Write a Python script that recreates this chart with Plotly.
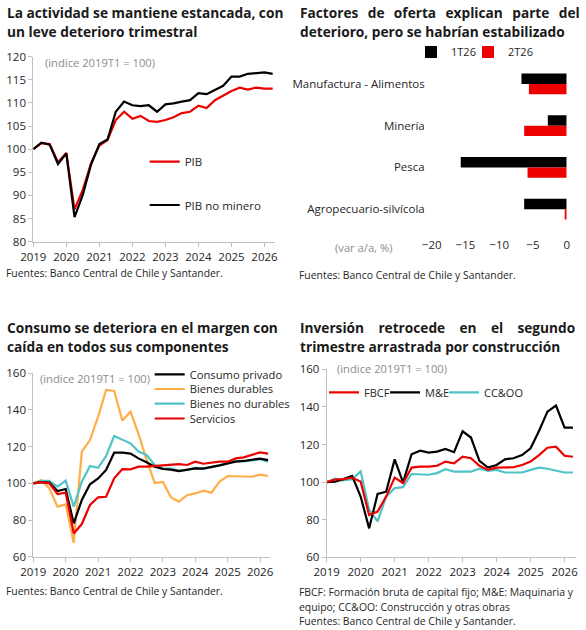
import plotly.graph_objects as go

W, H = 586, 630

quarters = [
    "2019-01-01", "2019-04-01", "2019-07-01", "2019-10-01",
    "2020-01-01", "2020-04-01", "2020-07-01", "2020-10-01",
    "2021-01-01", "2021-04-01", "2021-07-01", "2021-10-01",
    "2022-01-01", "2022-04-01", "2022-07-01", "2022-10-01",
    "2023-01-01", "2023-04-01", "2023-07-01", "2023-10-01",
    "2024-01-01", "2024-04-01", "2024-07-01", "2024-10-01",
    "2025-01-01", "2025-04-01", "2025-07-01", "2025-10-01",
    "2026-01-01", "2026-04-01",
]

# Panel 1: PIB
pib = [100.0, 101.3, 101.1, 97.2, 99.2, 87.0, 91.2, 97.0, 100.8, 102.0,
       106.3, 108.1, 106.6, 107.2, 106.1, 105.9, 106.3, 106.9, 107.8, 108.1,
       109.4, 108.9, 110.6, 111.6, 112.6, 113.3, 112.9, 113.3, 113.1, 113.1]
pib_no_minero = [100.0, 101.4, 101.0, 96.8, 99.1, 85.3, 90.1, 96.7, 101.1, 102.1,
                 108.1, 110.3, 109.5, 109.3, 109.5, 108.1, 109.7, 109.9, 110.3, 110.6,
                 112.1, 111.9, 112.8, 113.7, 115.7, 115.7, 116.3, 116.5, 116.6, 116.3]

# Panel 2: sectores de oferta (var a/a, %)
sectores = ["Manufactura - Alimentos", "Minería", "Pesca", "Agropecuario-silvícola"]
t1_26 = [-6.7, -2.8, -15.7, -6.3]
t2_26 = [-5.6, -6.3, -5.8, -0.3]

# Panel 3: consumo
consumo_privado = [100.0, 100.7, 100.4, 95.8, 96.9, 78.2, 90.9, 99.5, 102.7, 107.3,
                   116.7, 116.7, 116.2, 113.6, 111.5, 109.1, 107.8, 107.5, 106.7, 107.3,
                   108.2, 108.0, 108.7, 109.8, 110.9, 111.8, 112.2, 112.7, 113.5, 112.7]
bienes_durables = [100.0, 101.8, 97.3, 87.3, 88.5, 67.6, 117.3, 123.6, 136.4, 150.9,
                   150.4, 134.3, 139.1, 127.0, 113.0, 100.2, 100.8, 92.4, 90.0, 93.5,
                   94.5, 96.0, 94.9, 101.0, 104.0, 104.0, 103.6, 103.6, 104.7, 104.0]
bienes_no_durables = [100.0, 101.3, 101.3, 98.2, 101.5, 87.3, 100.9, 109.5, 108.5, 114.9,
                      125.8, 124.0, 121.8, 117.3, 115.5, 110.0, 108.2, 108.0, 106.9, 107.3,
                      108.4, 108.0, 108.7, 109.8, 110.9, 112.4, 112.0, 112.4, 113.1, 111.8]
servicios = [100.0, 100.7, 100.0, 94.2, 94.9, 72.7, 77.8, 88.2, 92.4, 92.7,
             102.7, 107.8, 107.6, 109.1, 109.1, 109.5, 109.6, 110.0, 110.5, 110.0,
             111.8, 110.7, 111.3, 111.8, 111.8, 113.6, 114.2, 115.5, 116.9, 116.2]

# Panel 4: inversión
fbcf = [100.0, 101.4, 101.6, 102.3, 100.3, 82.5, 84.3, 92.3, 102.4, 99.4,
        107.7, 108.2, 108.2, 108.7, 110.9, 110.0, 113.5, 112.7, 108.7, 106.5,
        107.7, 107.7, 107.9, 109.1, 110.9, 114.4, 118.3, 118.8, 114.0, 113.5]
me = [100.0, 100.2, 101.6, 103.3, 92.3, 75.4, 93.7, 94.9, 112.1, 99.7,
      114.8, 116.7, 115.7, 116.2, 117.6, 115.9, 127.0, 123.7, 111.3, 107.7,
      109.1, 112.1, 112.7, 114.4, 118.0, 127.2, 137.5, 140.7, 129.0, 129.0]
ccoo = [100.0, 101.8, 100.9, 101.6, 105.7, 85.3, 79.1, 92.3, 96.8, 97.3,
        104.3, 103.9, 103.9, 104.8, 106.9, 105.6, 105.6, 105.6, 107.1, 106.0,
        106.5, 105.1, 105.1, 105.1, 106.5, 107.7, 107.1, 106.0, 105.1, 105.1]

RED = "#EC0000"
BLACK = "#000000"
ORANGE = "#FFAD47"
TEAL = "#4FC4C8"
AXIS = "#BFBFBF"
TXT = "#262626"
GRAY = "#8C8C8C"
FONT = "Open Sans"
LW = 2.2


def px(x):
    return x / W


def py(y):
    return 1 - y / H


fig = go.Figure()

# Panel 1
fig.add_trace(go.Scatter(x=quarters, y=pib, name="PIB", mode="lines",
                         line=dict(color=RED, width=LW), xaxis="x", yaxis="y", legend="legend"))
fig.add_trace(go.Scatter(x=quarters, y=pib_no_minero, name="PIB no minero", mode="lines",
                         line=dict(color=BLACK, width=LW), xaxis="x", yaxis="y", legend="legend2"))

# Panel 2
fig.add_trace(go.Bar(x=t1_26, y=sectores, name="1T26", orientation="h",
                     marker=dict(color=BLACK, line=dict(width=0)), xaxis="x2", yaxis="y2", legend="legend3"))
fig.add_trace(go.Bar(x=t2_26, y=sectores, name="2T26", orientation="h",
                     marker=dict(color=RED, line=dict(width=0)), xaxis="x2", yaxis="y2", legend="legend11"))

# Panel 3
fig.add_trace(go.Scatter(x=quarters, y=bienes_durables, name="Bienes durables", mode="lines",
                         line=dict(color=ORANGE, width=LW), xaxis="x3", yaxis="y3", legend="legend5"))
fig.add_trace(go.Scatter(x=quarters, y=bienes_no_durables, name="Bienes no durables", mode="lines",
                         line=dict(color=TEAL, width=LW), xaxis="x3", yaxis="y3", legend="legend6"))
fig.add_trace(go.Scatter(x=quarters, y=consumo_privado, name="Consumo privado", mode="lines",
                         line=dict(color=BLACK, width=LW), xaxis="x3", yaxis="y3", legend="legend4"))
fig.add_trace(go.Scatter(x=quarters, y=servicios, name="Servicios", mode="lines",
                         line=dict(color=RED, width=LW), xaxis="x3", yaxis="y3", legend="legend7"))

# Panel 4
fig.add_trace(go.Scatter(x=quarters, y=ccoo, name="CC&OO", mode="lines",
                         line=dict(color=TEAL, width=LW), xaxis="x4", yaxis="y4", legend="legend10"))
fig.add_trace(go.Scatter(x=quarters, y=me, name="M&E", mode="lines",
                         line=dict(color=BLACK, width=LW), xaxis="x4", yaxis="y4", legend="legend9"))
fig.add_trace(go.Scatter(x=quarters, y=fbcf, name="FBCF", mode="lines",
                         line=dict(color=RED, width=LW), xaxis="x4", yaxis="y4", legend="legend8"))

tickfont = dict(family=FONT, size=11.5, color=TXT)


def date_axis(dom, end, anchor):
    return dict(domain=dom, anchor=anchor, type="date", range=["2019-01-01", end],
                tick0="2019-01-01", dtick="M12", tickformat="%Y",
                ticks="outside", ticklen=4, tickcolor=AXIS, tickwidth=1,
                showline=True, linecolor=AXIS, linewidth=1, showgrid=False,
                zeroline=False, tickfont=tickfont, fixedrange=True, automargin=False)


def val_axis(dom, rng, dt, anchor):
    return dict(domain=dom, anchor=anchor, range=rng, dtick=dt,
                ticks="outside", ticklen=4, tickcolor=AXIS, tickwidth=1,
                showline=True, linecolor=AXIS, linewidth=1, showgrid=False,
                zeroline=False, tickfont=tickfont, fixedrange=True, automargin=False)


def legend_at(text_x, y, size=11.5):
    return dict(x=px(text_x - 37), y=py(y), xanchor="left", yanchor="middle",
                orientation="v", bgcolor="rgba(0,0,0,0)", borderwidth=0,
                font=dict(family=FONT, size=size, color=TXT), itemwidth=30,
                tracegroupgap=0, itemclick=False, itemdoubleclick=False)


layout = dict(
    template="none",
    width=W, height=H, margin=dict(l=0, r=0, t=0, b=0, pad=0, autoexpand=False),
    paper_bgcolor="white", plot_bgcolor="white",
    font=dict(family=FONT, size=11.5, color=TXT),
    showlegend=True,
    barmode="group", bargap=0.5, bargroupgap=0,
    xaxis=date_axis([px(33.3), px(275)], "2026-04-27", "y"),
    yaxis=val_axis([py(241.7), py(56.7)], [80, 120], 5, "x"),
    xaxis2=dict(domain=[px(431.7), px(566.7)], anchor="y2", range=[-20, 0], dtick=5,
                showline=False, ticks="", showgrid=False, zeroline=False,
                tickfont=tickfont, ticklabelstandoff=6, fixedrange=True, automargin=False),
    yaxis2=dict(domain=[py(230), py(63)], anchor="x2", type="category",
                categoryarray=sectores, categoryorder="array", autorange="reversed",
                showline=False, ticks="", showgrid=False, zeroline=False,
                tickfont=tickfont, ticklabelstandoff=6, fixedrange=True, automargin=False),
    yaxis5=dict(overlaying="y2", anchor="x2", side="right", range=[-0.5, 3.5],
                tickvals=[-0.5, 0.5, 1.5, 2.5, 3.5], ticks="inside", ticklen=4,
                tickcolor=AXIS, showticklabels=False, showline=True, linecolor=AXIS,
                linewidth=1, showgrid=False, zeroline=False, fixedrange=True, automargin=False),
    xaxis3=date_axis([px(33.3), px(270)], "2026-04-23", "y3"),
    yaxis3=val_axis([py(556.7), py(373.3)], [60, 160], 20, "x3"),
    xaxis4=date_axis([px(326.7), px(576)], "2026-05-04", "y4"),
    yaxis4=val_axis([py(557.3), py(369.3)], [60, 160], 20, "x4"),
    legend=legend_at(181.7, 161.7),
    legend2=legend_at(181.7, 205),
    legend3=legend_at(448, 52, 11),
    legend11=legend_at(505, 52, 11),
    legend4=legend_at(186.7, 374.3, 11.2),
    legend5=legend_at(186.7, 389, 11.2),
    legend6=legend_at(186.7, 403.7, 11.2),
    legend7=legend_at(186.7, 418.5, 11.2),
    legend8=legend_at(361, 392.3, 11),
    legend9=legend_at(422, 392.3, 11),
    legend10=legend_at(481, 392.3, 11),
)
fig.update_layout(**layout)

title_font = dict(family=FONT, size=13.7, color="#1A1A1A")
note_font = dict(family=FONT, size=10.4, color=TXT)
gray_font = dict(family=FONT, size=11.2, color=GRAY)
GAP = "\u00a0\u2009 "
GAP_WIDE = "\u00a0\u00a0\u2009\u200a "

texts = [
    ("<b>La actividad se mantiene estancada, con</b>", 5, 12, title_font),
    ("<b>un leve deterioro trimestral</b>", 5, 31, title_font),
    ("<b>" + "Factores de oferta explican parte del".replace(" ", GAP) + "</b>", 298, 12, title_font),
    ("<b>deterioro, pero se habrían estabilizado</b>", 298, 31, title_font),
    ("<b>Consumo se deteriora en el margen con</b>", 5, 327, title_font),
    ("<b>caída en todos sus componentes</b>", 5, 346, title_font),
    ("<b>" + "Inversión retrocede en el segundo".replace(" ", GAP_WIDE) + "</b>", 298, 327, title_font),
    ("<b>trimestre arrastrada por construcción</b>", 298, 346, title_font),
    ("(indice 2019T1 = 100)", 43, 63, gray_font),
    ("(var a/a, %)", 333, 248, gray_font),
    ("(indice 2019T1 = 100)", 38, 378, gray_font),
    ("(indice 2019T1 = 100)", 335, 368, gray_font),
    ("Fuentes: Banco Central de Chile y Santander.", 4, 273, note_font),
    ("Fuentes: Banco Central de Chile y Santander.", 297, 275, note_font),
    ("Fuentes: Banco Central de Chile y Santander.", 4, 591, note_font),
    ("FBCF: Formación bruta de capital fijo; M&E: Maquinaria y", 297, 592, note_font),
    ("equipo; CC&OO: Construcción y otras obras", 297, 606.5, note_font),
    ("Fuentes: Banco Central de Chile y Santander.", 297, 621, note_font),
]
for t, x, y, f in texts:
    fig.add_annotation(text=t, x=px(x), y=py(y), xref="paper", yref="paper",
                       xanchor="left", yanchor="middle", showarrow=False, font=f,
                       align="left")

fig.write_html("out.html", config={"displayModeBar": False},
               post_script="document.body.style.margin='0px';")
